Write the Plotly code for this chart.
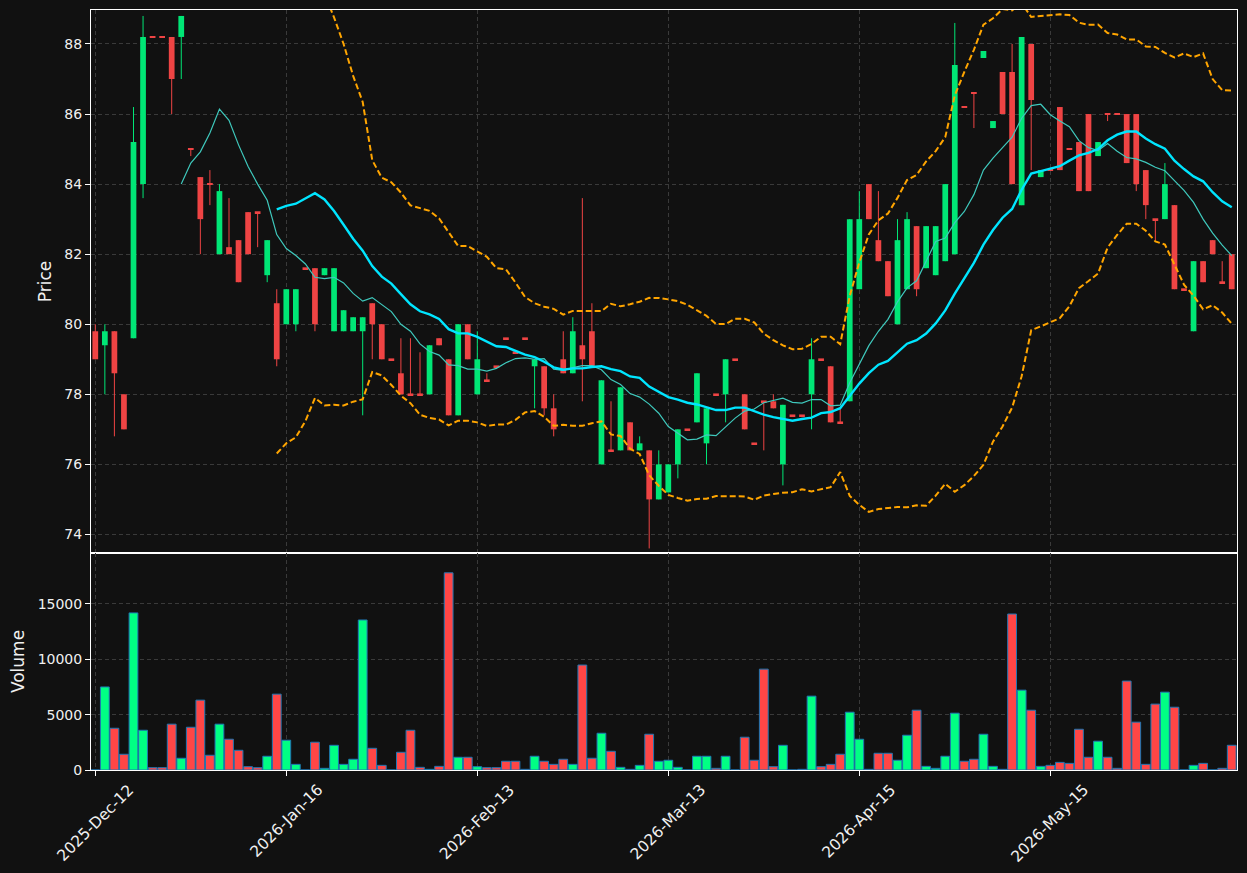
import numpy as np
import pandas as pd
import plotly.graph_objects as go

# ---------------- data ----------------
opens = [79.8, 79.4, 79.8, 78.0, 79.6, 84.0, 88.2, 88.2, 88.2, 88.2,
         85.0, 84.2, 84.0, 82.0, 82.2, 82.4, 83.2, 83.2, 81.4, 80.6,
         80.0, 80.0, 81.6, 81.6, 81.4, 79.8, 79.8, 79.8, 79.8, 80.6,
         80.0, 79.0, 78.6, 78.0, 78.0, 78.0, 79.6, 79.0, 77.4, 80.0,
         78.0, 78.4, 78.8, 79.6, 79.2, 79.6, 78.8, 78.8, 77.6, 79.0,
         78.6, 79.4, 79.8, 76.0, 76.4, 76.4, 77.2, 76.4, 76.4, 75.0,
         75.2, 76.0, 77.0, 77.2, 76.6, 78.0, 78.0, 79.0, 78.0, 76.6,
         77.8, 77.8, 76.0, 77.4, 77.4, 78.0, 79.0, 78.8, 77.2, 77.8,
         81.0, 84.0, 82.4, 81.8, 80.0, 81.0, 82.8, 81.6, 81.4, 81.8,
         82.0, 86.2, 86.6, 87.6, 85.6, 87.2, 87.2, 83.4, 88.0, 84.2,
         84.4, 86.2, 85.0, 85.2, 86.0, 84.8, 86.0, 86.0, 86.0, 86.0,
         84.4, 83.0, 83.0, 83.4, 81.0, 79.8, 81.8, 82.4, 81.2, 82.0]
highs = [80.0, 80.0, 79.8, 78.0, 86.2, 88.8, 88.2, 88.2, 88.2, 88.8,
         85.0, 84.2, 84.4, 84.0, 83.6, 82.4, 83.2, 83.2, 82.4, 81.0,
         81.0, 81.0, 81.6, 81.6, 81.6, 81.6, 80.4, 80.2, 80.2, 80.6,
         80.0, 79.0, 79.6, 79.6, 79.2, 79.4, 79.6, 79.0, 80.0, 80.0,
         79.8, 78.6, 78.8, 79.6, 79.2, 79.6, 79.0, 78.8, 78.0, 79.8,
         80.2, 83.6, 80.6, 78.4, 77.8, 78.2, 77.2, 76.8, 76.4, 76.4,
         76.0, 77.0, 77.0, 78.6, 77.6, 78.0, 79.0, 79.0, 78.0, 76.6,
         77.8, 78.0, 77.7, 77.4, 77.4, 79.6, 79.0, 78.8, 77.6, 83.0,
         83.8, 84.0, 83.8, 81.8, 83.0, 83.2, 82.8, 82.8, 82.8, 84.0,
         88.6, 86.2, 86.6, 87.8, 85.8, 87.2, 88.0, 88.2, 88.0, 84.4,
         84.4, 86.2, 85.0, 85.2, 86.0, 85.2, 86.0, 86.0, 86.0, 86.0,
         84.4, 83.0, 84.6, 83.4, 81.0, 81.8, 81.8, 82.4, 81.8, 82.0]
lows = [79.0, 78.0, 76.8, 77.0, 79.6, 83.6, 88.2, 88.2, 86.0, 87.0,
        84.8, 82.0, 83.4, 82.0, 82.0, 81.2, 82.0, 82.2, 81.2, 78.8,
        80.0, 79.8, 81.6, 79.8, 81.4, 79.8, 79.8, 79.8, 77.4, 79.0,
        79.0, 79.0, 78.0, 78.0, 78.0, 78.0, 79.4, 77.4, 77.4, 79.0,
        78.0, 78.4, 78.8, 79.6, 79.2, 79.6, 77.6, 77.4, 76.8, 78.6,
        78.6, 77.8, 78.8, 76.0, 76.4, 76.4, 76.4, 76.4, 73.6, 75.0,
        75.2, 75.6, 77.0, 77.2, 76.0, 78.0, 77.2, 79.0, 77.0, 76.6,
        76.4, 77.6, 75.4, 77.4, 77.4, 77.0, 79.0, 77.2, 77.2, 77.8,
        81.0, 83.0, 81.8, 80.8, 80.0, 81.0, 80.8, 81.6, 81.4, 81.8,
        82.0, 86.2, 85.6, 87.6, 85.6, 86.0, 84.0, 83.4, 84.4, 84.2,
        84.4, 84.4, 85.0, 83.8, 83.8, 84.8, 85.8, 86.0, 84.6, 83.8,
        83.0, 82.4, 83.0, 81.0, 81.0, 79.8, 81.2, 82.0, 81.2, 81.0]
closes = [79.0, 79.8, 78.6, 77.0, 85.2, 88.2, 88.2, 88.2, 87.0, 88.8,
          85.0, 83.0, 84.0, 83.8, 82.0, 81.2, 82.0, 83.2, 82.4, 79.0,
          81.0, 81.0, 81.6, 80.0, 81.6, 81.6, 80.4, 80.2, 80.2, 80.0,
          79.0, 79.0, 78.0, 78.0, 78.0, 79.4, 79.4, 77.4, 80.0, 79.0,
          79.0, 78.4, 78.8, 79.6, 79.2, 79.6, 79.0, 77.6, 77.0, 78.6,
          79.8, 79.0, 78.8, 78.4, 76.4, 78.2, 76.4, 76.6, 75.0, 76.0,
          76.0, 77.0, 77.0, 78.6, 77.6, 78.0, 79.0, 79.0, 77.0, 76.6,
          77.8, 77.6, 77.7, 77.4, 77.4, 79.0, 79.0, 77.2, 77.2, 83.0,
          83.0, 83.0, 81.8, 80.8, 82.4, 83.0, 81.0, 82.8, 82.8, 84.0,
          87.4, 86.2, 86.6, 87.8, 85.8, 86.0, 84.0, 88.2, 86.4, 84.4,
          84.4, 84.4, 85.0, 83.8, 83.8, 85.2, 86.0, 86.0, 84.6, 84.0,
          83.4, 83.0, 84.0, 81.0, 81.0, 81.8, 81.2, 82.0, 81.2, 81.0]
volumes = [0, 7500, 3770, 1420, 14190, 3590, 210, 210, 4140, 1060,
           3860, 6310, 1330, 4140, 2780, 1780, 300, 210, 1240, 6850,
           2690, 510, 0, 2510, 150, 2230, 510, 970, 13550, 1960,
           420, 0, 1600, 3590, 240, 60, 330, 17810, 1150, 1150,
           300, 210, 210, 790, 790, 60, 1240, 790, 510, 970,
           510, 9480, 1060, 3320, 1690, 240, 60, 420, 3230, 790,
           880, 240, 0, 1240, 1240, 150, 1240, 0, 2960, 880,
           9110, 300, 2230, 0, 60, 6670, 300, 510, 1420, 5220,
           2780, 60, 1510, 1510, 880, 3140, 5400, 330, 150, 1240,
           5130, 790, 970, 3230, 330, 60, 14090, 7210, 5400, 330,
           420, 690, 600, 3680, 1150, 2600, 1150, 150, 8030, 4320,
           510, 5950, 7030, 5670, 0, 420, 600, 0, 150, 2230]
tick_index = [0, 20, 40, 60, 80, 100]
tick_labels = ["2025-Dec-12", "2026-Jan-16", "2026-Feb-13",
               "2026-Mar-13", "2026-Apr-15", "2026-May-15"]
price_ticks = [74, 76, 78, 80, 82, 84, 86, 88]
volume_ticks = [0, 5000, 10000, 15000]
volume_tick_text = ["0", "5000", "10000", "15000"]

# ---------------- derived series ----------------
n = len(closes)
idx = list(range(n))
o = np.array(opens); c = np.array(closes); h = np.array(highs); l = np.array(lows)
up = c > o

UP_C, DN_C = "#00e676", "#ef4444"
VUP_C, VDN_C = "#00ff84", "#ff4646"
TXT = "#f0f0f0"

cs = pd.Series(closes)
ma10 = cs.rolling(10).mean()
mid = cs.rolling(20).mean()
sd = cs.rolling(20).std(ddof=0)
bb_up = mid + 2 * sd
bb_lo = mid - 2 * sd

fig = go.Figure()

# wicks
for mask, col in ((up, UP_C), (~up, DN_C)):
    xs, ys = [], []
    for i in range(n):
        if mask[i]:
            xs += [i, i, None]
            ys += [l[i], h[i], None]
    fig.add_trace(go.Scatter(x=xs, y=ys, mode="lines", line=dict(color=col, width=1),
                             hoverinfo="skip", xaxis="x", yaxis="y"))

# bodies
min_h = 0.05
heights = np.maximum(np.abs(c - o), min_h)
bases = (o + c) / 2 - heights / 2
fig.add_trace(go.Bar(x=idx, y=heights, base=bases, width=0.6,
                     marker=dict(color=[UP_C if u else DN_C for u in up], line=dict(width=0)),
                     xaxis="x", yaxis="y"))

# overlays
fig.add_trace(go.Scatter(x=idx, y=ma10, mode="lines", line=dict(color="#3fc9bd", width=1.2),
                         xaxis="x", yaxis="y"))
fig.add_trace(go.Scatter(x=idx, y=mid, mode="lines", line=dict(color="#00e5ff", width=2.4),
                         xaxis="x", yaxis="y"))
for band in (bb_up, bb_lo):
    fig.add_trace(go.Scatter(x=idx, y=band, mode="lines",
                             line=dict(color="#ffa500", width=2, dash="6px,3px"),
                             xaxis="x", yaxis="y"))

# volume
fig.add_trace(go.Bar(x=idx, y=volumes, width=0.92,
                     marker=dict(color=[VUP_C if u else VDN_C for u in up],
                                 line=dict(color="#1f77b4", width=1)),
                     xaxis="x2", yaxis="y2"))

GRID = "#3a3a3a"
split = 217 / 760
common_x = dict(range=[-0.45, 119.55], tickvals=tick_index, showgrid=True, gridcolor=GRID,
                griddash="4px,3px", gridwidth=1, showline=True, mirror=True,
                linecolor="white", linewidth=1, zeroline=False, showticklabels=False)
common_y = dict(showgrid=True, gridcolor=GRID, griddash="4px,3px", gridwidth=1,
                showline=True, mirror=True, linecolor="white", linewidth=1, zeroline=False,
                ticks="outside", ticklen=5, tickcolor="white")

# rotated date labels centred on their ticks (matplotlib style)
annotations = [dict(x=xi, y=0, xref="x2", yref="paper", text=t, textangle=-45,
                    showarrow=False, xanchor="center", yanchor="top", yshift=-8,
                    font=dict(family="DejaVu Sans", size=15.5, color=TXT))
               for xi, t in zip(tick_index, tick_labels)]

fig.update_layout(
    width=1247, height=873,
    margin=dict(l=91, r=10, t=10, b=103),
    paper_bgcolor="#111111", plot_bgcolor="#111111",
    showlegend=False, barmode="overlay",
    font=dict(family="DejaVu Sans", size=14, color=TXT),
    xaxis=dict(domain=[0, 1], anchor="y", ticks="", **common_x),
    yaxis=dict(domain=[split, 1], anchor="x", range=[73.47, 88.97], tickvals=price_ticks,
               title=dict(text="Price", standoff=8), **common_y),
    xaxis2=dict(domain=[0, 1], anchor="y2", ticks="outside", ticklen=5, tickcolor="white",
                **common_x),
    yaxis2=dict(domain=[0, split], anchor="x2", range=[0, 19600], tickvals=volume_ticks,
                ticktext=volume_tick_text, title=dict(text="Volume", standoff=8), **common_y),
    annotations=annotations,
)

fig.write_html("out.html")
